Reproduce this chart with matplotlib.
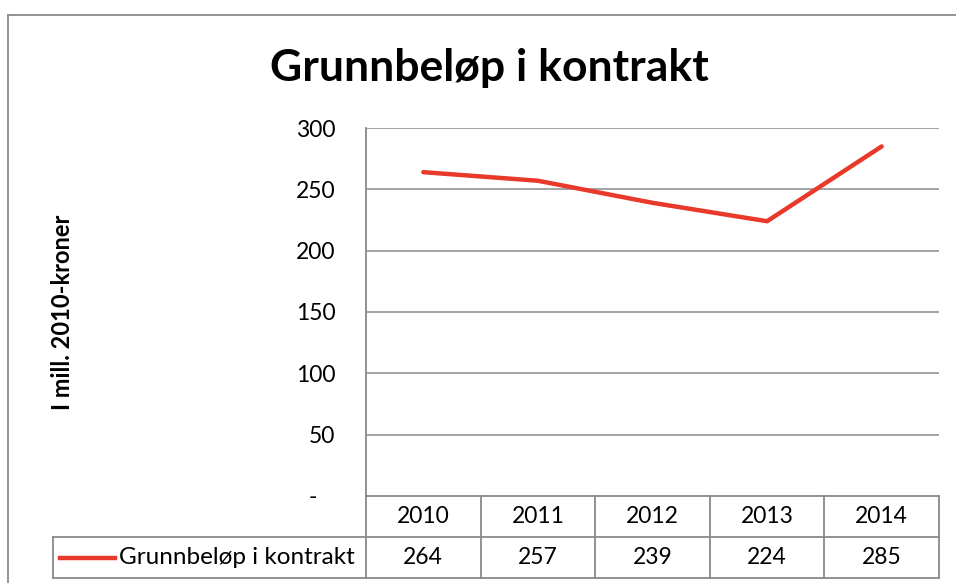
import matplotlib
matplotlib.use("Agg")
import matplotlib.pyplot as plt
from matplotlib.lines import Line2D

plt.rcParams['font.family'] = ['Lato', 'DejaVu Sans']

years = ["2010", "2011", "2012", "2013", "2014"]
values = [264, 257, 239, 224, 285]
yticks = [0, 50, 100, 150, 200, 250, 300]
ytick_labels = ["-   ", "50", "100", "150", "200", "250", "300"]
series_name = "Grunnbeløp i kontrakt"
title = "Grunnbeløp i kontrakt"
ylabel = "I mill. 2010-kroner"

W, H = 956, 583
fig = plt.figure(figsize=(W / 100, H / 100), dpi=100)

def fx(px):
    return px / W

def fy(py):
    return 1 - py / H

L, R, T, B = 366, 939, 128, 496
ax = fig.add_axes([fx(L), fy(B), fx(R) - fx(L), fy(T) - fy(B)])

red = "#E8392B"
grid = "#898989"

x = list(range(len(years)))
ax.plot(x, values, color=red, lw=3.2, solid_capstyle='round', zorder=3)
ax.set_xlim(-0.5, len(years) - 0.5)
ax.set_ylim(0, 300)
ax.set_yticks(yticks)
ax.set_yticklabels(ytick_labels, fontsize=16.5)
ax.tick_params(axis='y', length=0, pad=22)
ax.set_xticks([])
for v in yticks[1:]:
    ax.axhline(v, color=grid, lw=1.1, zorder=1)
for s in ['top', 'right', 'bottom']:
    ax.spines[s].set_visible(False)
ax.spines['left'].set_color(grid)
ax.spines['left'].set_linewidth(1.3)

# data table below axes (axes coordinates)
ah = B - T
row_h = 41 / ah
tr = ax.transAxes
xt = ax.get_xaxis_transform()

def line(xs, ys, transform):
    fig.add_artist(Line2D(xs, ys, transform=transform, color=grid, lw=1.3, clip_on=False))

line([0, 1], [0, 0], tr)
leg_left = (53 - L) / (R - L)
line([leg_left, 1], [-row_h, -row_h], tr)
line([leg_left, 1], [-2 * row_h, -2 * row_h], tr)
for i in range(len(years) + 1):
    xv = i - 0.5
    line([xv, xv], [0, -2 * row_h], xt)
line([leg_left, leg_left], [-row_h, -2 * row_h], tr)

for i, (yr, v) in enumerate(zip(years, values)):
    ax.text(i, -0.5 * row_h, yr, transform=xt, ha='center', va='center', fontsize=16.5, clip_on=False)
    ax.text(i, -1.5 * row_h, str(v), transform=xt, ha='center', va='center', fontsize=16.5, clip_on=False)

# legend key
kx0 = (60 - L) / (R - L)
kx1 = (115 - L) / (R - L)
fig.add_artist(Line2D([kx0, kx1], [-1.5 * row_h, -1.5 * row_h], transform=tr, color=red, lw=3.2, clip_on=False))
ax.text((119 - L) / (R - L), -1.5 * row_h, series_name, transform=tr, ha='left', va='center', fontsize=17.5, clip_on=False)

# title and y label
fig.text(fx(489), fy(68), title, ha='center', va='center', fontsize=32, fontweight='bold')
fig.text(fx(62), fy(312), ylabel, ha='center', va='center', rotation=90, fontsize=17, fontweight='bold')

# outer border (cropped at right and bottom)
fig.add_artist(Line2D([fx(8), fx(8)], [fy(15), 0], transform=fig.transFigure, color="#8a8a8a", lw=1.3))
fig.add_artist(Line2D([fx(8), 1], [fy(15), fy(15)], transform=fig.transFigure, color="#8a8a8a", lw=1.3))

fig.savefig("out.png", dpi=100)
